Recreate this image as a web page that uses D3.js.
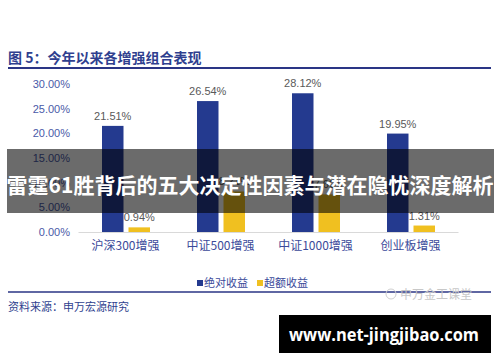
<!DOCTYPE html>
<html><head><meta charset="utf-8">
<script src="https://cdn.jsdelivr.net/npm/d3@7/dist/d3.min.js"></script>
<style>body{margin:0;background:#fff}svg{display:block}</style>
</head><body>
<script>
const categories = ["沪深300增强","中证500增强","中证1000增强","创业板增强"];
const seriesNames = ["绝对收益","超额收益"];
const absoluteReturn = [21.51, 26.54, 28.12, 19.95];
const excessReturn = [0.94, 8.21, 7.62, 1.31];
const yTicks = [0,5,10,15,20,25,30];
const colors = ["#243a8f","#f0c020"];

const W=500,H=362;
const svg=d3.select("body").append("svg").attr("width",W).attr("height",H);
const cjk="'Noto Sans CJK SC','Noto Sans',sans-serif";
const lat="'Liberation Sans',Arial,sans-serif";

// title
svg.append("text").attr("x",8).attr("y",63).attr("font-family",cjk).attr("font-size",14).attr("font-weight","bold")
  .attr("fill","#2f3f8f").text("图 5：今年以来各增强组合表现");
svg.append("line").attr("x1",8).attr("x2",491).attr("y1",68).attr("y2",68).attr("stroke","#2a3585").attr("stroke-width",2);

const x=d3.scaleBand().domain(categories).range([78,458]);
const y=d3.scaleLinear().domain([0,30]).range([232,84]);

// y axis labels
const ya=svg.append("g").attr("transform","translate(70,0)").call(d3.axisLeft(y).tickValues(yTicks).tickSize(0).tickPadding(0).tickFormat(d=>d.toFixed(2)+"%"));
ya.select(".domain").remove();
ya.selectAll("text").attr("font-family",lat).attr("font-size",11).attr("fill","#4a5aa8");

// x axis
const xa=svg.append("g").attr("transform","translate(0,232)").call(d3.axisBottom(x).tickSize(0).tickPadding(9));
xa.select(".domain").attr("stroke","#d9d9d9");
xa.selectAll("text").attr("font-family",cjk).attr("font-size",12).attr("fill","#3b4a9a");

const barW=21.5;
const offs=[24,50.5];
[absoluteReturn,excessReturn].forEach((vals,si)=>{
  const g=svg.append("g");
  g.selectAll("rect").data(vals).join("rect")
    .attr("x",(d,i)=>x(categories[i])+offs[si]).attr("width",barW)
    .attr("y",d=>y(d)).attr("height",d=>y(0)-y(d)).attr("fill",colors[si]);
  g.selectAll("text").data(vals).join("text")
    .attr("x",(d,i)=>x(categories[i])+offs[si]+barW/2).attr("y",d=>y(d)-6)
    .attr("text-anchor","middle").attr("font-family",lat).attr("font-size",11).attr("fill","#595959")
    .text(d=>d.toFixed(2)+"%");
});

// legend
const lg=svg.append("g");
seriesNames.forEach((n,i)=>{
  const lx=[197,257][i];
  lg.append("rect").attr("x",lx).attr("y",280).attr("width",6).attr("height",6).attr("fill",colors[i]);
  lg.append("text").attr("x",lx+7).attr("y",287).attr("font-family",cjk).attr("font-size",11).attr("fill","#3b4a9a").text(n);
});

// bottom rule & source
svg.append("line").attr("x1",8).attr("x2",491).attr("y1",292).attr("y2",292).attr("stroke","#2a3585").attr("stroke-width",1.5);
svg.append("text").attr("x",8).attr("y",311).attr("font-family",cjk).attr("font-size",11).attr("fill","#2f3f8f").text("资料来源：申万宏源研究");
svg.append("text").attr("x",400).attr("y",299).attr("font-family",cjk).attr("font-size",12).attr("fill","#c8c8c8").text("申万金工课堂");
svg.append("circle").attr("cx",391).attr("cy",294).attr("r",5).attr("fill","none").attr("stroke","#d0d0d0");

// overlay banner
svg.append("rect").attr("x",7).attr("y",149).attr("width",487).attr("height",64).attr("fill","rgba(0,0,0,0.58)");
svg.append("text").attr("x",250).attr("y",193).attr("text-anchor","middle").attr("font-family",cjk).attr("font-size",21).attr("font-weight","bold").attr("fill","#fff")
  .text("雷霆61胜背后的五大决定性因素与潜在隐忧深度解析");

// url banner
svg.append("rect").attr("x",279).attr("y",315).attr("width",212).attr("height",38).attr("fill","#000");
svg.append("text").attr("x",384).attr("y",341).attr("text-anchor","middle").attr("font-family","'Open Sans','DejaVu Sans',sans-serif").attr("font-size",18).attr("font-weight","bold").attr("fill","#fff")
  .attr("textLength",190).attr("lengthAdjust","spacingAndGlyphs").text("www.net-jingjibao.com");
</script>
</body></html>
